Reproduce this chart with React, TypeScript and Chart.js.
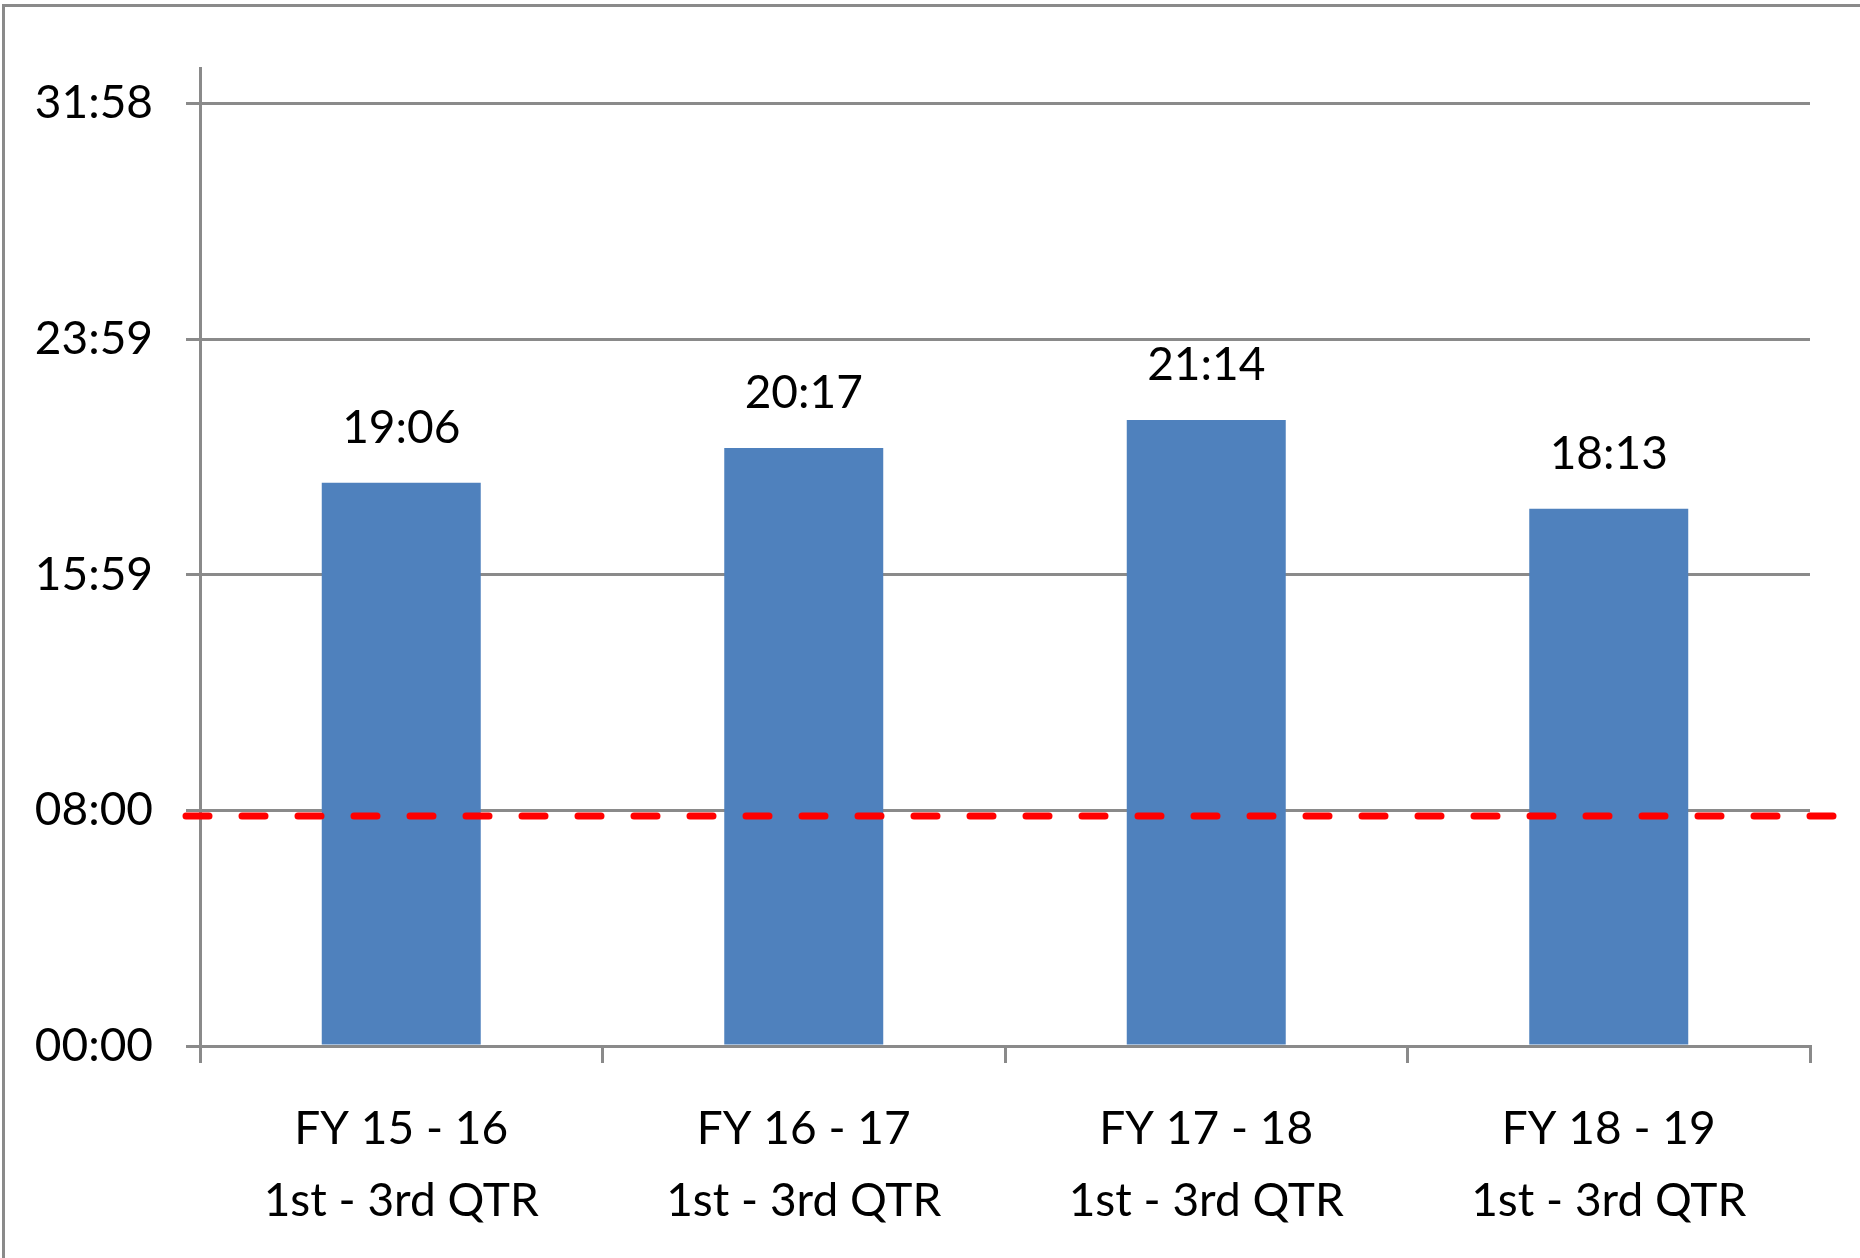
import React, { useEffect, useRef } from "react";
import { Chart, registerables } from "chart.js";

Chart.register(...registerables);

// ---- data ----
const categories: string[][] = [
  ["FY 15 - 16", "1st - 3rd QTR"],
  ["FY 16 - 17", "1st - 3rd QTR"],
  ["FY 17 - 18", "1st - 3rd QTR"],
  ["FY 18 - 19", "1st - 3rd QTR"],
];
// durations in seconds (mm:ss)
const durationSeconds: number[] = [1146, 1217, 1274, 1093]; // 19:06, 20:17, 21:14, 18:13
const yTickValues: number[] = [0, 479.5, 959, 1438.5, 1918]; // 00:00, 08:00, 15:59, 23:59, 31:58
const yAxisMax = 1990;
const targetSeconds = 468;

const FONT = "Lato, 'Open Sans', sans-serif";
const FONT_SIZE = 46;
const GRAY = "#8a8a8a";

function two(n: number): string {
  return n < 10 ? "0" + n : String(n);
}
function fmt(v: number): string {
  const s = Math.round(v);
  return two(Math.floor(s / 60)) + ":" + two(s % 60);
}

const dataLabelPlugin = {
  id: "dataLabels",
  afterDatasetsDraw(chart: any) {
    const ctx = chart.ctx;
    const meta = chart.getDatasetMeta(0);
    ctx.save();
    ctx.font = `${FONT_SIZE}px ${FONT}`;
    ctx.fillStyle = "#000000";
    ctx.textAlign = "center";
    ctx.textBaseline = "alphabetic";
    meta.data.forEach((bar: any, i: number) => {
      ctx.fillText(fmt(durationSeconds[i]), bar.x, bar.y - 40);
    });
    ctx.restore();
  },
};

const targetLinePlugin = {
  id: "targetLine",
  afterDatasetsDraw(chart: any) {
    const ctx = chart.ctx;
    const area = chart.chartArea;
    const y = chart.scales.y.getPixelForValue(targetSeconds);
    ctx.save();
    ctx.strokeStyle = "#ff0000";
    ctx.lineWidth = 7;
    ctx.lineCap = "round";
    ctx.setLineDash([23, 33]);
    ctx.beginPath();
    ctx.moveTo(area.left - 14, y);
    ctx.lineTo(area.right + 27, y);
    ctx.stroke();
    ctx.restore();
  },
};

export default function App() {
  const canvasRef = useRef<HTMLCanvasElement | null>(null);

  useEffect(() => {
    if (!canvasRef.current) return;
    const chart = new Chart(canvasRef.current, {
      type: "bar",
      data: {
        labels: categories,
        datasets: [
          {
            data: durationSeconds,
            backgroundColor: "#4f81bd",
            borderWidth: 0,
            categoryPercentage: 0.395,
            barPercentage: 1,
          },
        ],
      },
      options: {
        responsive: false,
        animation: false,
        devicePixelRatio: 1,
        layout: { padding: { top: 68, right: 50, bottom: 0, left: 0 } },
        plugins: {
          legend: { display: false },
          tooltip: { enabled: false },
          title: { display: false },
        },
        scales: {
          x: {
            offset: true,
            grid: {
              offset: true,
              display: true,
              drawOnChartArea: false,
              drawTicks: true,
              tickLength: 17,
              color: GRAY,
              lineWidth: 3,
            },
            border: { display: true, color: GRAY, width: 3 },
            ticks: {
              color: "#000000",
              font: { family: FONT, size: FONT_SIZE, lineHeight: 72 / FONT_SIZE },
              padding: 30,
              maxRotation: 0,
              autoSkip: false,
            },
            afterFit(scale: any) {
              scale.height = 212;
            },
          },
          y: {
            min: 0,
            max: yAxisMax,
            grid: {
              display: true,
              drawOnChartArea: true,
              drawTicks: true,
              tickLength: 14,
              color: GRAY,
              lineWidth: 3,
            },
            border: { display: true, color: GRAY, width: 3 },
            ticks: {
              color: "#000000",
              font: { family: FONT, size: FONT_SIZE },
              padding: 33,
              callback: (v: any) => fmt(Number(v)),
            },
            afterBuildTicks(scale: any) {
              scale.ticks = yTickValues.map((v) => ({ value: v }));
            },
            afterFit(scale: any) {
              scale.width = 200;
            },
          },
        },
      },
      plugins: [targetLinePlugin, dataLabelPlugin],
    } as any);
    return () => chart.destroy();
  }, []);

  return (
    <div
      style={{
        position: "fixed",
        left: 0,
        top: 0,
        width: 1860,
        height: 1258,
        overflow: "hidden",
        background: "#ffffff",
      }}
    >
      <canvas
        ref={canvasRef}
        width={1860}
        height={1258}
        style={{ position: "absolute", left: 0, top: 0, width: 1860, height: 1258 }}
      />
      <div
        style={{
          position: "absolute",
          left: 2,
          top: 4,
          width: 2000,
          height: 2000,
          borderLeft: `3px solid ${GRAY}`,
          borderTop: `3px solid ${GRAY}`,
          pointerEvents: "none",
        }}
      />
    </div>
  );
}
